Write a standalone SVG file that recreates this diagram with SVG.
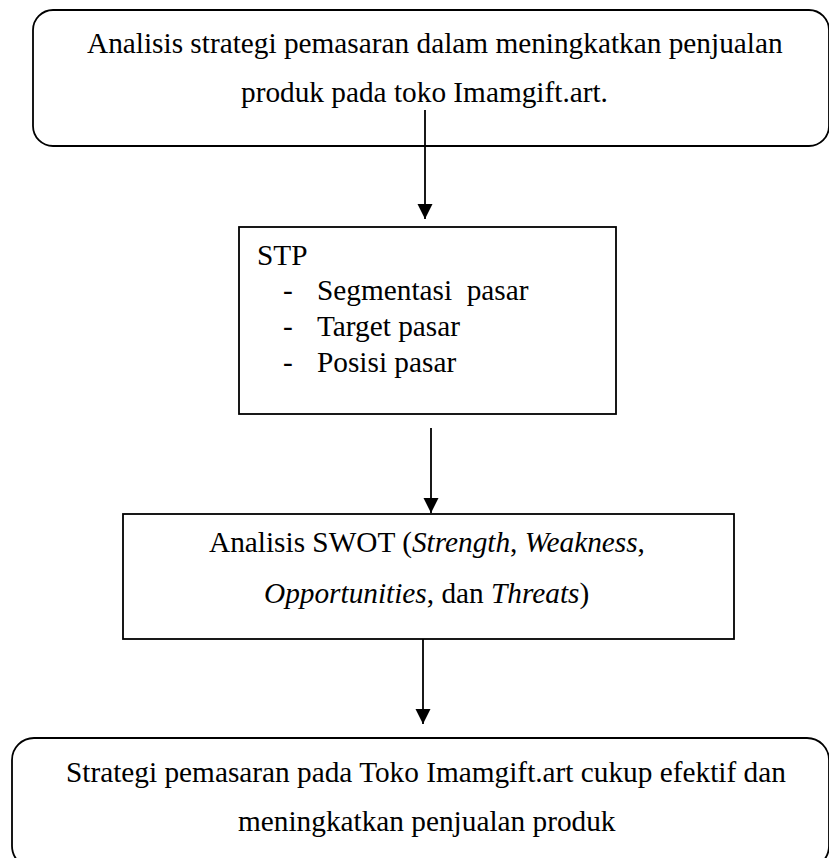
<svg xmlns="http://www.w3.org/2000/svg" width="829" height="858" viewBox="0 0 829 858">
<style>
.box{fill:#fff;stroke:#000;stroke-width:1.8}
.t{font-family:"Times New Roman","Liberation Serif",Tinos,serif;font-size:29.3px;fill:#000;white-space:pre}
.i{font-style:italic}
.c{stroke:#000;stroke-width:1.8;fill:none}
</style>
<defs>
<marker id="ah" markerWidth="16" markerHeight="16" refX="15" refY="7.5" orient="auto" markerUnits="userSpaceOnUse">
<path d="M0,0 L15,7.5 L0,15 Z" fill="#000"/>
</marker>
</defs>
<rect width="829" height="858" fill="#fff"/>
<g id="n1">
<rect class="box" x="33" y="10" width="796" height="136" rx="20"/>
<text class="t" x="87" y="53">Analisis strategi pemasaran dalam meningkatkan penjualan</text>
<text class="t" x="241" y="102">produk pada toko Imamgift.art.</text>
</g>
<g id="n2">
<rect class="box" x="239" y="227" width="377" height="187"/>
<text class="t" x="257" y="265">STP</text>
<text class="t" x="283" y="300">-</text>
<text class="t" x="317" y="300">Segmentasi  pasar</text>
<text class="t" x="283" y="336">-</text>
<text class="t" x="317" y="336">Target pasar</text>
<text class="t" x="283" y="372">-</text>
<text class="t" x="317" y="372">Posisi pasar</text>
</g>
<g id="n3">
<rect class="box" x="123" y="514" width="611" height="125"/>
<text class="t" x="209" y="552">Analisis SWOT (<tspan class="i">Strength</tspan>, <tspan class="i">Weakness</tspan>,</text>
<text class="t" x="264" y="603"><tspan class="i">Opportunities</tspan>, dan <tspan class="i">Threats</tspan>)</text>
</g>
<g id="n4">
<rect class="box" x="12" y="738" width="817" height="130" rx="22"/>
<text class="t" x="66" y="782">Strategi pemasaran pada Toko Imamgift.art cukup efektif dan</text>
<text class="t" x="238" y="831">meningkatkan penjualan produk</text>
</g>
<g id="connectors">
<line class="c" x1="425" y1="110" x2="425" y2="219" marker-end="url(#ah)"/>
<line class="c" x1="431" y1="428" x2="431" y2="513" marker-end="url(#ah)"/>
<line class="c" x1="423" y1="639" x2="423" y2="724" marker-end="url(#ah)"/>
</g>
</svg>
